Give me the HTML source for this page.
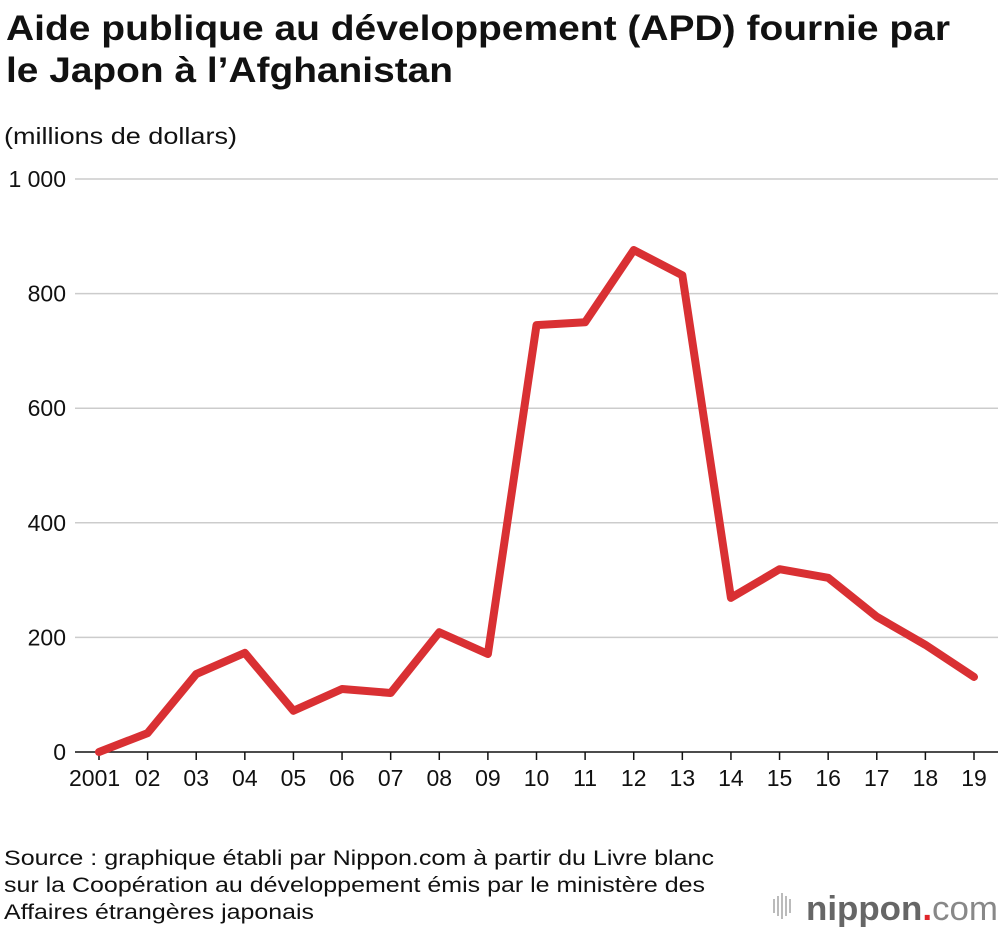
<!DOCTYPE html>
<html><head><meta charset="utf-8"><style>
body{margin:0;background:#fff;font-family:"Liberation Sans",sans-serif;}
</style></head><body>
<svg width="1000" height="930" xmlns="http://www.w3.org/2000/svg">
<text x="6" y="40" font-size="35" font-weight="bold" fill="#111" textLength="944" lengthAdjust="spacingAndGlyphs">Aide publique au développement (APD) fournie par</text>
<text x="6" y="82" font-size="35" font-weight="bold" fill="#111" textLength="447" lengthAdjust="spacingAndGlyphs">le Japon à l’Afghanistan</text>
<text x="4" y="144" font-size="23" fill="#111" textLength="233" lengthAdjust="spacingAndGlyphs">(millions de dollars)</text>
<g id="grid"></g><g id="xt"></g>
<polyline id="line" fill="none" stroke="#d93033" stroke-width="8" stroke-linejoin="round" stroke-linecap="round"/>
<text x="4" y="865" font-size="21" fill="#111" textLength="710" lengthAdjust="spacingAndGlyphs">Source : graphique établi par Nippon.com à partir du Livre blanc</text>
<text x="4" y="892" font-size="21" fill="#111" textLength="701" lengthAdjust="spacingAndGlyphs">sur la Coopération au développement émis par le ministère des</text>
<text x="4" y="919" font-size="21" fill="#111" textLength="310" lengthAdjust="spacingAndGlyphs">Affaires étrangères japonais</text>
<g>
<g fill="#bbb"><rect x="773" y="899" width="2" height="14"/><rect x="777" y="896" width="2" height="20"/><rect x="781" y="893" width="2" height="26"/><rect x="785" y="896" width="2" height="20"/><rect x="789" y="899" width="2" height="14"/></g>
<text x="806" y="920" font-size="34" font-weight="bold" fill="#666" textLength="192" lengthAdjust="spacingAndGlyphs">nippon<tspan fill="#e0262b">.</tspan><tspan font-weight="normal" fill="#888">com</tspan></text>
</g>
</svg>
<script>
const years=["2001","02","03","04","05","06","07","08","09","10","11","12","13","14","15","16","17","18","19"];
const values=[0,33,136,173,72,110,103,209,171,745,750,876,832,269,319,304,236,187,131];
const yTicks=[0,200,400,600,800,1000];
const yTickLabels=["0","200","400","600","800","1 000"];
const NS="http://www.w3.org/2000/svg";
function y(v){return 752-v*0.573;}
function x(i){return 99+i*(875/18);}
const grid=document.getElementById('grid');
yTicks.forEach((t,i)=>{
 const l=document.createElementNS(NS,'line');
 l.setAttribute('x1',75);l.setAttribute('x2',998);l.setAttribute('y1',y(t));l.setAttribute('y2',y(t));
 l.setAttribute('stroke',t===0?'#111':'#ccc');l.setAttribute('stroke-width',1.5);
 
 
 grid.appendChild(l);
 const tx=document.createElementNS(NS,'text');
 tx.setAttribute('x',66);tx.setAttribute('y',y(t)+8);tx.setAttribute('text-anchor','end');tx.setAttribute('font-size','23');tx.setAttribute('fill','#111');
 tx.textContent=yTickLabels[i];
 
 
 grid.appendChild(tx);
});
const xt=document.getElementById('xt');
years.forEach((yr,i)=>{
 const l=document.createElementNS(NS,'line');
 l.setAttribute('x1',x(i));l.setAttribute('x2',x(i));l.setAttribute('y1',752);l.setAttribute('y2',760);l.setAttribute('stroke','#111');l.setAttribute('stroke-width',1.5);
 
 
 xt.appendChild(l);
 const tx=document.createElementNS(NS,'text');
 tx.setAttribute('x',i===0?x(i)-30:x(i));tx.setAttribute('y',786);tx.setAttribute('text-anchor',i===0?'start':'middle');tx.setAttribute('font-size','23');tx.setAttribute('fill','#111');
 tx.textContent=yr;
 
 
 xt.appendChild(tx);
});
document.getElementById('line').setAttribute('points',values.map((v,i)=>x(i)+','+y(v)).join(' '));
</script>
</body></html>
